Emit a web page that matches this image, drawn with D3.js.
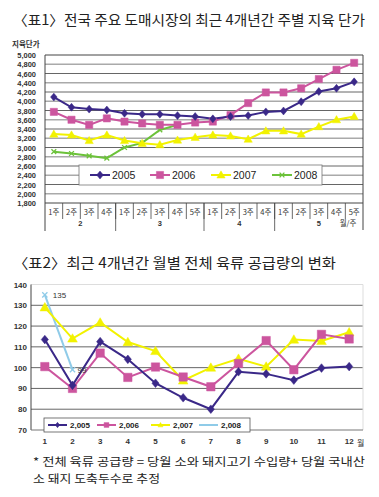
<!DOCTYPE html>
<html><head><meta charset="utf-8">
<script src="https://cdn.jsdelivr.net/npm/d3@7"></script>
<style>body{margin:0;background:#fff}svg{display:block}</style>
</head><body>
<svg id="c" width="379" height="497"></svg>
<script>
// ---------- Data: chart 1 (weekly carcass price) ----------
const weeks1 = ["1주","2주","3주","4주","1주","2주","3주","4주","5주","1주","2주","3주","4주","1주","2주","3주","4주","5주"];
const months1 = ["2","3","4","5"];
const monthWeekCounts1 = [4,5,4,5];
const yTicks1 = [1800,2000,2200,2400,2600,2800,3000,3200,3400,3600,3800,4000,4200,4400,4600,4800,5000];
const seriesNames1 = ["2005","2006","2007","2008"];
const price2005 = [4090,3870,3830,3810,3740,3720,3720,3690,3670,3620,3670,3690,3770,3790,3990,4210,4280,4420];
const price2006 = [3770,3600,3490,3630,3560,3520,3490,3490,3540,3560,3700,3960,4190,4190,4280,4480,4680,4830];
const price2007 = [3290,3270,3150,3270,3150,3090,3060,3160,3220,3270,3250,3180,3360,3360,3290,3450,3600,3670];
const price2008 = [2910,2870,2820,2770,3000,3100,3380,3490];

// ---------- Data: chart 2 (monthly meat supply) ----------
const months2 = ["1","2","3","4","5","6","7","8","9","10","11","12"];
const yTicks2 = [70,80,90,100,110,120,130,140];
const seriesNames2 = ["2,005","2,006","2,007","2,008"];
const supply2005 = [113.5,91.5,112.5,104,92.5,85.5,80,98,97,94,99.8,100.5];
const supply2006 = [100.5,90,107,95.3,100.3,95.5,90.8,102,113,99,116,113.8];
const supply2007 = [129,114,121.7,112.3,108,93.8,100,104.3,100.5,113.5,112.8,117];
const supply2008 = [135,99];

const title1 = "〈표1〉전국 주요 도매시장의 최근 4개년간 주별 지육 단가";
const title2 = "〈표2〉최근 4개년간 월별 전체 육류 공급량의 변화";
const yTitle1 = "지육단가";
const unit1 = "월/주";
const unit2 = "월";
const note1 = "* 전체 육류 공급량 = 당월 소와 돼지고기 수입량+ 당월 국내산";
const note2 = "소 돼지 도축두수로 추정";

const colors = ["#3a2888","#cc559e","#f2f200","#6cc23a"];
const color2008b = "#8fcbe8";
const markers = ["diamond","square","triangle","x"];

const svg = d3.select("#c");
const KR = "'Noto Sans CJK KR','Noto Sans',sans-serif";
const LAT = "'Liberation Sans',Arial,sans-serif";

function markerPath(type, s){
  if(type==="diamond") return `M0,${-s*1.2}L${s},0L0,${s*1.2}L${-s},0Z`;
  if(type==="square") return `M${-s},${-s}H${s}V${s}H${-s}Z`;
  if(type==="triangle") return `M0,${-s*1.15}L${s*1.15},${s*0.85}L${-s*1.15},${s*0.85}Z`;
  return `M${-s},${-s}L${s},${s}M${s},${-s}L${-s},${s}`;
}
function drawMarker(g, type, x, y, s, color){
  g.append("path").attr("d", markerPath(type,s)).attr("transform",`translate(${x},${y})`)
    .attr("fill", type==="x"?"none":color).attr("stroke",color).attr("stroke-width", type==="x"?1.3:0.5);
}

// ---------- Titles ----------
svg.append("text").attr("x",13).attr("y",25).attr("font-family",KR).attr("font-size",14)
  .attr("fill","#222").attr("textLength",352).attr("lengthAdjust","spacingAndGlyphs").text(title1);
svg.append("text").attr("x",13).attr("y",268).attr("font-family",KR).attr("font-size",14)
  .attr("fill","#222").attr("textLength",323).attr("lengthAdjust","spacingAndGlyphs").text(title2);

// ---------- Chart 1 ----------
const x1 = d3.scaleBand().domain(d3.range(weeks1.length)).range([45,363]);
const y1 = d3.scaleLinear().domain([1800,5000]).range([203,55]);
const g1 = svg.append("g");

g1.selectAll("line.grid").data(yTicks1.slice(1,-1)).join("line")
  .attr("x1",45).attr("x2",363).attr("y1",d=>y1(d)).attr("y2",d=>y1(d))
  .attr("stroke",(d,i)=> i%2===0?"#aaa":"#666").attr("stroke-width",(d,i)=> i%2===0?1.6:1);
g1.append("line").attr("x1",45).attr("x2",363).attr("y1",y1(5000)).attr("y2",y1(5000)).attr("stroke","#444");
g1.append("line").attr("x1",363).attr("x2",363).attr("y1",y1(5000)).attr("y2",230).attr("stroke","#444");
g1.append("line").attr("x1",45).attr("x2",45).attr("y1",y1(5000)).attr("y2",231).attr("stroke","#444");
g1.append("line").attr("x1",45).attr("x2",363).attr("y1",y1(1800)).attr("y2",y1(1800)).attr("stroke","#444");

g1.selectAll("text.yt").data(yTicks1).join("text")
  .attr("x",36).attr("y",d=>y1(d)+3).attr("text-anchor","end")
  .attr("font-family",LAT).attr("font-size",7.5).attr("font-weight","bold").attr("fill","#333")
  .text(d=>d3.format(",")(d));
g1.append("text").attr("x",12).attr("y",47).attr("font-family",KR).attr("font-size",7.5).attr("font-weight","bold")
  .attr("fill","#333").text(yTitle1);

g1.selectAll("line.wk").data(d3.range(1,weeks1.length)).join("line")
  .attr("x1",d=>x1(d)).attr("x2",d=>x1(d)).attr("y1",y1(1800)).attr("y2",219).attr("stroke","#444").attr("stroke-width",0.8);
g1.selectAll("text.wk").data(weeks1).join("text")
  .attr("x",(d,i)=>x1(i)+x1.bandwidth()/2).attr("y",215).attr("text-anchor","middle")
  .attr("font-family",KR).attr("font-size",7.5).attr("fill","#333").text(d=>d);
let acc=0; const monthStart=[];
monthWeekCounts1.forEach(c=>{monthStart.push(acc); acc+=c;});
monthStart.slice(1).forEach(s=>{
  g1.append("line").attr("x1",x1(s)).attr("x2",x1(s)).attr("y1",y1(1800)).attr("y2",231).attr("stroke","#444").attr("stroke-width",0.8);
});
months1.forEach((m,i)=>{
  const a = x1(monthStart[i]), b = x1(monthStart[i]+monthWeekCounts1[i]-1)+x1.bandwidth();
  g1.append("text").attr("x",(a+b)/2).attr("y",226).attr("text-anchor","middle")
    .attr("font-family",LAT).attr("font-size",7.5).attr("font-weight","bold").attr("fill","#333").text(m);
});
g1.append("text").attr("x",348).attr("y",226).attr("text-anchor","middle").attr("font-family",KR)
  .attr("font-size",7.5).attr("fill","#333").text(unit1);

const series1 = [price2005,price2006,price2007,price2008];
const line1 = d3.line().x((d,i)=>x1(i)+x1.bandwidth()/2).y(d=>y1(d));
const mSize1 = [3.3,3.6,3.6,2.4];
[3,2,1,0].forEach(k=>{
  g1.append("path").datum(series1[k]).attr("d",line1).attr("fill","none")
    .attr("stroke",colors[k]).attr("stroke-width",2);
});
[3,2,1,0].forEach(k=>{
  series1[k].forEach((v,i)=> drawMarker(g1, markers[k], x1(i)+x1.bandwidth()/2, y1(v), mSize1[k], colors[k]));
});

g1.append("rect").attr("x",79).attr("y",165).attr("width",243).attr("height",20)
  .attr("fill","#fff").attr("stroke","#777").attr("stroke-width",0.8);
const leg1x = [90,150,211,272];
seriesNames1.forEach((n,k)=>{
  const lx = leg1x[k];
  g1.append("line").attr("x1",lx).attr("x2",lx+20).attr("y1",175).attr("y2",175).attr("stroke",colors[k]).attr("stroke-width",2);
  drawMarker(g1, markers[k], lx+10, 175, mSize1[k], colors[k]);
  g1.append("text").attr("x",lx+22).attr("y",179).attr("font-family",LAT).attr("font-size",10.5).attr("fill","#222").text(n);
});

// ---------- Chart 2 ----------
const x2 = d3.scaleBand().domain(months2).range([31,363]);
const y2 = d3.scaleLinear().domain([70,140]).range([430,284.5]);
const g2 = svg.append("g");
g2.selectAll("line.grid").data(yTicks2.slice(1,-1)).join("line")
  .attr("x1",31).attr("x2",363).attr("y1",d=>y2(d)).attr("y2",d=>y2(d)).attr("stroke","#666").attr("stroke-width",1);
g2.append("line").attr("x1",31).attr("x2",363).attr("y1",y2(140)).attr("y2",y2(140)).attr("stroke","#ddd");
g2.append("line").attr("x1",363).attr("x2",363).attr("y1",y2(140)).attr("y2",y2(70)).attr("stroke","#ddd");
g2.append("line").attr("x1",31).attr("x2",31).attr("y1",y2(140)).attr("y2",y2(70)).attr("stroke","#444");
g2.append("line").attr("x1",31).attr("x2",363).attr("y1",y2(70)).attr("y2",y2(70)).attr("stroke","#777");

g2.selectAll("text.yt").data(yTicks2).join("text")
  .attr("x",27).attr("y",d=>y2(d)+3).attr("text-anchor","end")
  .attr("font-family",LAT).attr("font-size",8).attr("font-weight","bold").attr("fill","#333").text(d=>d);
g2.selectAll("text.xt").data(months2).join("text")
  .attr("x",d=>x2(d)+x2.bandwidth()/2).attr("y",444).attr("text-anchor","middle")
  .attr("font-family",LAT).attr("font-size",8).attr("font-weight","bold").attr("fill","#333").text(d=>d);
g2.append("text").attr("x",357).attr("y",446).attr("font-family",KR).attr("font-size",8).attr("fill","#333").text(unit2);

const series2 = [supply2005,supply2006,supply2007,supply2008];
const colors2 = [colors[0],colors[1],colors[2],color2008b];
const line2 = d3.line().x((d,i)=>x2(months2[i])+x2.bandwidth()/2).y(d=>y2(d));
const mSize2 = [3.6,4.2,4.2,2.6];
[3,2,1,0].forEach(k=>{
  g2.append("path").datum(series2[k]).attr("d",line2).attr("fill","none")
    .attr("stroke",colors2[k]).attr("stroke-width",2);
});
[2,1,0,3].forEach(k=>{
  series2[k].forEach((v,i)=> drawMarker(g2, markers[k], x2(months2[i])+x2.bandwidth()/2, y2(v), mSize2[k], colors2[k]));
});
supply2008.forEach((v,i)=>{
  g2.append("text").attr("x",x2(months2[i])+x2.bandwidth()/2+(i===0?8:5)).attr("y",y2(v)+3)
    .attr("font-family",LAT).attr("font-size",8).attr("fill","#333").text(d3.format("d")(v));
});

g2.append("rect").attr("x",44).attr("y",418).attr("width",206).attr("height",14)
  .attr("fill","#fff").attr("stroke","#555").attr("stroke-width",0.8);
const leg2x = [48,97,151,199];
seriesNames2.forEach((n,k)=>{
  const lx = leg2x[k];
  g2.append("line").attr("x1",lx).attr("x2",lx+19).attr("y1",425).attr("y2",425).attr("stroke",colors2[k]).attr("stroke-width",2);
  if(k<3) drawMarker(g2, markers[k], lx+9.5, 425, k===1?2.4:2.2, colors2[k]);
  g2.append("text").attr("x",lx+22).attr("y",428).attr("font-family",LAT).attr("font-size",8).attr("font-weight","bold").attr("fill","#222").text(n);
});

// ---------- Footnote ----------
svg.append("text").attr("x",33).attr("y",466).attr("font-family",KR).attr("font-size",11.5).attr("fill","#222")
  .attr("textLength",332).attr("lengthAdjust","spacingAndGlyphs").text(note1);
svg.append("text").attr("x",33).attr("y",483).attr("font-family",KR).attr("font-size",11.5).attr("fill","#222")
  .attr("textLength",127).attr("lengthAdjust","spacingAndGlyphs").text(note2);
</script>
</body></html>
